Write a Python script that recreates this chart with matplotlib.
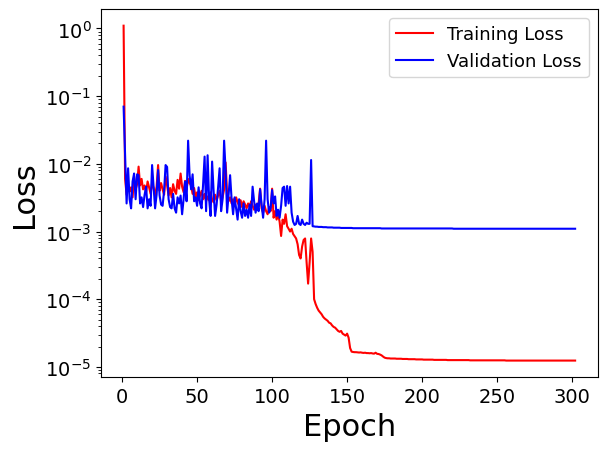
import matplotlib
matplotlib.use("Agg")
import matplotlib.pyplot as plt
import numpy as np

# training loss per epoch
train_loss = [
    1.1, 6.0e-3, 3.5e-3, 5.0e-3, 3.9e-3, 4.5e-3, 3.2e-3, 6.5e-3, 4.2e-3, 5.0e-3,
    9.1e-3, 4.8e-3, 6.0e-3, 4.2e-3, 4.8e-3, 3.8e-3, 5.5e-3, 4.5e-3, 3.6e-3, 5.2e-3,
    4.4e-3, 3.4e-3, 4.6e-3, 9.6e-3, 4.0e-3, 5.2e-3, 4.2e-3, 3.5e-3, 6.5e-3, 4.8e-3,
    3.4e-3, 4.4e-3, 3.2e-3, 5.0e-3, 4.0e-3, 3.6e-3, 5.8e-3, 4.3e-3, 7.2e-3, 4.6e-3,
    3.8e-3, 5.6e-3, 4.2e-3, 6.0e-3, 5.2e-3, 4.8e-3, 3.6e-3, 4.4e-3, 3.2e-3, 3.8e-3,
    2.9e-3, 3.4e-3, 4.0e-3, 3.0e-3, 3.6e-3, 2.8e-3, 3.3e-3, 2.9e-3, 3.8e-3, 3.0e-3,
    2.7e-3, 3.5e-3, 2.9e-3, 3.4e-3, 4.0e-3, 2.8e-3, 3.2e-3, 4.2e-3, 1.05e-2, 3.6e-3,
    2.8e-3, 3.2e-3, 2.6e-3, 3.0e-3, 2.5e-3, 3.2e-3, 2.7e-3, 2.4e-3, 2.9e-3, 2.3e-3,
    2.8e-3, 2.5e-3, 2.2e-3, 2.6e-3, 2.3e-3, 2.8e-3, 2.4e-3, 2.1e-3, 2.5e-3, 2.2e-3,
    2.6e-3, 4.3e-3, 2.2e-3, 1.9e-3, 2.4e-3, 2.0e-3, 1.8e-3, 2.3e-3, 2.0e-3, 4.3e-3,
    1.6e-3, 2.0e-3, 1.5e-3, 1.8e-3, 1.4e-3, 8.6e-4, 1.5e-3, 1.3e-3, 1.8e-3, 1.2e-3,
    1.1e-3, 1.0e-3, 1.1e-3, 9.2e-4, 8.5e-4, 7.9e-4, 6.5e-4, 4.5e-4, 4.0e-4, 6.0e-4,
    7.5e-4, 7.9e-4, 3.5e-4, 1.7e-4, 3.5e-4, 7.9e-4, 5.0e-4, 1.0e-4, 8.5e-5, 7.5e-5,
    6.8e-5, 6.4e-5, 6.0e-5, 5.5e-5, 5.2e-5, 5.0e-5, 4.8e-5, 4.5e-5, 4.4e-5, 4.1e-5,
    3.9e-5, 3.8e-5, 3.6e-5, 3.4e-5, 3.3e-5, 3.4e-5, 3.1e-5, 3.0e-5, 2.9e-5, 3.1e-5,
    2.7e-5, 1.9e-5, 1.68e-5, 1.66e-5, 1.65e-5, 1.65e-5, 1.64e-5, 1.63e-5, 1.64e-5, 1.62e-5,
    1.61e-5, 1.62e-5, 1.60e-5, 1.60e-5, 1.59e-5, 1.60e-5, 1.58e-5, 1.57e-5, 1.62e-5, 1.56e-5,
    1.55e-5, 1.52e-5, 1.48e-5, 1.42e-5, 1.37e-5, 1.35e-5, 1.34e-5, 1.34e-5, 1.33e-5, 1.33e-5,
    1.33e-5, 1.33e-5, 1.32e-5, 1.32e-5, 1.32e-5, 1.32e-5, 1.31e-5, 1.31e-5, 1.31e-5, 1.31e-5,
    1.30e-5, 1.30e-5, 1.30e-5, 1.30e-5, 1.30e-5, 1.29e-5, 1.29e-5, 1.29e-5, 1.29e-5, 1.29e-5,
    1.28e-5, 1.28e-5, 1.28e-5, 1.28e-5, 1.28e-5, 1.28e-5, 1.28e-5, 1.27e-5, 1.27e-5, 1.27e-5,
    1.27e-5, 1.27e-5, 1.27e-5, 1.27e-5, 1.27e-5, 1.27e-5, 1.26e-5, 1.26e-5, 1.26e-5, 1.26e-5,
    1.26e-5, 1.26e-5, 1.26e-5, 1.26e-5, 1.26e-5, 1.26e-5, 1.26e-5, 1.26e-5, 1.26e-5, 1.26e-5,
    1.26e-5, 1.25e-5, 1.25e-5, 1.25e-5, 1.25e-5, 1.25e-5, 1.25e-5, 1.25e-5, 1.25e-5, 1.25e-5,
    1.25e-5, 1.25e-5, 1.25e-5, 1.25e-5, 1.25e-5, 1.25e-5, 1.25e-5, 1.25e-5, 1.25e-5, 1.25e-5,
    1.25e-5, 1.25e-5, 1.25e-5, 1.25e-5, 1.25e-5, 1.24e-5, 1.24e-5, 1.24e-5, 1.24e-5, 1.24e-5,
    1.24e-5, 1.24e-5, 1.24e-5, 1.24e-5, 1.24e-5, 1.24e-5, 1.24e-5, 1.24e-5, 1.24e-5, 1.24e-5,
    1.24e-5, 1.24e-5, 1.24e-5, 1.24e-5, 1.24e-5, 1.24e-5, 1.24e-5, 1.24e-5, 1.24e-5, 1.24e-5,
    1.24e-5, 1.24e-5, 1.24e-5, 1.24e-5, 1.24e-5, 1.24e-5, 1.24e-5, 1.24e-5, 1.24e-5, 1.24e-5,
    1.24e-5, 1.24e-5, 1.24e-5, 1.24e-5, 1.24e-5, 1.24e-5, 1.24e-5, 1.24e-5, 1.24e-5, 1.24e-5,
    1.24e-5, 1.24e-5,
]

# validation loss per epoch
val_loss = [
    7.0e-2, 1.3e-2, 2.6e-3, 8.6e-3, 3.0e-3, 2.2e-3, 5.5e-3, 7.2e-3, 3.0e-3, 7.0e-3,
    6.8e-3, 2.6e-3, 3.2e-3, 2.3e-3, 3.5e-3, 4.6e-3, 2.2e-3, 3.0e-3, 2.4e-3, 9.6e-3,
    4.5e-3, 2.2e-3, 3.5e-3, 8.1e-3, 3.4e-3, 2.5e-3, 2.4e-3, 4.0e-3, 9.6e-3, 9.0e-3,
    3.0e-3, 2.3e-3, 2.2e-3, 3.6e-3, 2.2e-3, 1.9e-3, 3.2e-3, 2.6e-3, 3.4e-3, 1.8e-3,
    3.0e-3, 5.5e-3, 2.8e-3, 2.2e-2, 6.8e-3, 4.2e-3, 7.0e-3, 2.8e-3, 3.2e-3, 2.4e-3,
    4.5e-3, 2.6e-3, 2.2e-3, 5.0e-3, 1.28e-2, 2.0e-3, 1.34e-2, 3.0e-3, 1.7e-3, 1.08e-2,
    4.0e-3, 1.7e-3, 2.5e-3, 4.5e-3, 8.6e-3, 2.0e-3, 3.0e-3, 2.2e-2, 8.0e-3, 1.9e-3,
    3.5e-3, 6.8e-3, 3.0e-3, 1.8e-3, 3.2e-3, 2.2e-3, 1.5e-3, 3.0e-3, 2.0e-3, 1.6e-3,
    2.6e-3, 1.7e-3, 2.1e-3, 1.6e-3, 2.5e-3, 1.7e-3, 4.6e-3, 2.8e-3, 1.9e-3, 2.6e-3,
    2.0e-3, 4.2e-3, 2.5e-3, 1.6e-3, 3.0e-3, 2.2e-2, 3.0e-3, 1.9e-3, 2.2e-3, 4.1e-3,
    2.6e-3, 3.3e-3, 1.7e-3, 2.1e-3, 1.6e-3, 2.4e-3, 4.4e-3, 4.6e-3, 2.4e-3, 4.7e-3,
    2.6e-3, 4.6e-3, 1.9e-3, 1.4e-3, 1.25e-3, 1.3e-3, 1.7e-3, 1.3e-3, 1.25e-3, 1.5e-3,
    1.3e-3, 1.25e-3, 1.35e-3, 1.3e-3, 1.3e-3, 1.14e-2, 1.2e-3, 1.19e-3, 1.18e-3, 1.18e-3,
    1.17e-3, 1.17e-3, 1.17e-3, 1.16e-3, 1.16e-3, 1.16e-3, 1.15e-3, 1.15e-3, 1.15e-3, 1.15e-3,
    1.14e-3, 1.14e-3, 1.14e-3, 1.14e-3, 1.14e-3, 1.13e-3, 1.13e-3, 1.13e-3, 1.13e-3, 1.13e-3,
    1.13e-3, 1.13e-3, 1.13e-3, 1.12e-3, 1.12e-3, 1.12e-3, 1.12e-3, 1.12e-3, 1.12e-3, 1.12e-3,
    1.12e-3, 1.12e-3, 1.12e-3, 1.12e-3, 1.12e-3, 1.12e-3, 1.12e-3, 1.12e-3, 1.12e-3, 1.12e-3,
    1.12e-3, 1.12e-3, 1.11e-3, 1.11e-3, 1.11e-3, 1.11e-3, 1.11e-3, 1.11e-3, 1.11e-3, 1.11e-3,
    1.11e-3, 1.11e-3, 1.11e-3, 1.11e-3, 1.11e-3, 1.11e-3, 1.11e-3, 1.11e-3, 1.11e-3, 1.11e-3,
    1.11e-3, 1.11e-3, 1.11e-3, 1.11e-3, 1.11e-3, 1.11e-3, 1.11e-3, 1.11e-3, 1.11e-3, 1.11e-3,
    1.11e-3, 1.11e-3, 1.11e-3, 1.11e-3, 1.11e-3, 1.11e-3, 1.11e-3, 1.11e-3, 1.11e-3, 1.11e-3,
    1.11e-3, 1.11e-3, 1.11e-3, 1.11e-3, 1.11e-3, 1.11e-3, 1.11e-3, 1.11e-3, 1.11e-3, 1.11e-3,
    1.10e-3, 1.10e-3, 1.10e-3, 1.10e-3, 1.10e-3, 1.10e-3, 1.10e-3, 1.10e-3, 1.10e-3, 1.10e-3,
    1.10e-3, 1.10e-3, 1.10e-3, 1.10e-3, 1.10e-3, 1.10e-3, 1.10e-3, 1.10e-3, 1.10e-3, 1.10e-3,
    1.10e-3, 1.10e-3, 1.10e-3, 1.10e-3, 1.10e-3, 1.10e-3, 1.10e-3, 1.10e-3, 1.10e-3, 1.10e-3,
    1.10e-3, 1.10e-3, 1.10e-3, 1.10e-3, 1.10e-3, 1.10e-3, 1.10e-3, 1.10e-3, 1.10e-3, 1.10e-3,
    1.10e-3, 1.10e-3, 1.10e-3, 1.10e-3, 1.10e-3, 1.10e-3, 1.10e-3, 1.10e-3, 1.10e-3, 1.10e-3,
    1.10e-3, 1.10e-3, 1.10e-3, 1.10e-3, 1.10e-3, 1.10e-3, 1.10e-3, 1.10e-3, 1.10e-3, 1.10e-3,
    1.10e-3, 1.10e-3, 1.10e-3, 1.10e-3, 1.10e-3, 1.10e-3, 1.10e-3, 1.10e-3, 1.10e-3, 1.10e-3,
    1.10e-3, 1.10e-3, 1.10e-3, 1.10e-3, 1.10e-3, 1.10e-3, 1.10e-3, 1.10e-3, 1.10e-3, 1.10e-3,
    1.10e-3, 1.10e-3,
]

train_epochs = np.arange(1, len(train_loss) + 1)
val_epochs = np.arange(1, len(val_loss) + 1)

fig = plt.figure(figsize=(6.06, 4.52), dpi=100)
ax = fig.add_axes([0.1667, 0.163, 0.8196, 0.815])

ax.plot(train_epochs, train_loss, color='red', label='Training Loss')
ax.plot(val_epochs, val_loss, color='blue', label='Validation Loss')
ax.set_yscale('log')

ax.set_xlabel('Epoch', fontsize=22)
ax.set_ylabel('Loss', fontsize=22)
ax.tick_params(axis='both', which='major', labelsize=14)
ax.legend(fontsize=13, loc='upper right')

fig.savefig('out.png', dpi=100)
